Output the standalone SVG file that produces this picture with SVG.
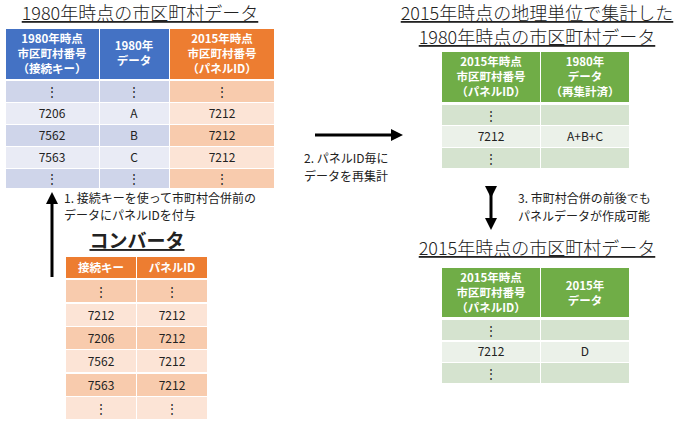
<svg xmlns="http://www.w3.org/2000/svg" width="688" height="425" viewBox="0 0 688 425">
<style>
text{font-family:"Noto Sans CJK JP","Liberation Sans",sans-serif;fill:#222}
.t{font-size:18px;text-decoration:underline;font-weight:300}
.h{font-size:11.5px;font-weight:bold;fill:#fff;text-anchor:middle}
.c{font-size:12px;text-anchor:middle}
.n{font-size:12px}
.b1{fill:#CFD5EA}.b2{fill:#E9EBF5}.o1{fill:#F8CBAD}.o2{fill:#FCE4D6}.g1{fill:#D5E3CF}.g2{fill:#EBF1E9}
</style>
<defs><marker id="a" markerWidth="4" markerHeight="4" refX="2" refY="2" orient="auto"><path d="M0,0L4,2L0,4z" fill="#000"/></marker></defs>
<rect width="688" height="425" fill="#fff"/>
<g id="t1980">
<text x="140" y="20" class="t" text-anchor="middle">1980年時点の市区町村データ</text>
<rect x="6" y="29" width="93" height="50" fill="#4472C4"/><rect x="100" y="29" width="69" height="50" fill="#4472C4"/><rect x="170" y="29" width="104" height="50" fill="#ED7D31"/>
<text class="h" x="52" y="43">1980年時点</text><text class="h" x="52" y="58">市区町村番号</text><text class="h" x="52" y="73">（接続キー）</text>
<text class="h" x="134" y="50">1980年</text><text class="h" x="134" y="65">データ</text>
<text class="h" x="222" y="43">2015年時点</text><text class="h" x="222" y="58">市区町村番号</text><text class="h" x="222" y="73">（パネルID）</text>
<rect class="b1" x="6" y="81" width="93" height="21"/><rect class="b1" x="100" y="81" width="69" height="21"/><rect class="o1" x="170" y="81" width="104" height="21"/>
<rect class="b2" x="6" y="103" width="93" height="21"/><rect class="b2" x="100" y="103" width="69" height="21"/><rect class="o2" x="170" y="103" width="104" height="21"/>
<rect class="b1" x="6" y="125" width="93" height="21"/><rect class="b1" x="100" y="125" width="69" height="21"/><rect class="o1" x="170" y="125" width="104" height="21"/>
<rect class="b2" x="6" y="147" width="93" height="21"/><rect class="b2" x="100" y="147" width="69" height="21"/><rect class="o2" x="170" y="147" width="104" height="21"/>
<rect class="b1" x="6" y="169" width="93" height="19"/><rect class="b1" x="100" y="169" width="69" height="19"/><rect class="o1" x="170" y="169" width="104" height="19"/>
<text class="c" x="52" y="96">⋮</text><text class="c" x="134" y="96">⋮</text><text class="c" x="222" y="96">⋮</text>
<text class="c" x="52" y="118">7206</text><text class="c" x="134" y="118">A</text><text class="c" x="222" y="118">7212</text>
<text class="c" x="52" y="140">7562</text><text class="c" x="134" y="140">B</text><text class="c" x="222" y="140">7212</text>
<text class="c" x="52" y="162">7563</text><text class="c" x="134" y="162">C</text><text class="c" x="222" y="162">7212</text>
<text class="c" x="52" y="183">⋮</text><text class="c" x="134" y="183">⋮</text><text class="c" x="222" y="183">⋮</text>
</g>
<g id="conv">
<text x="137" y="248" font-size="19" font-weight="bold" text-anchor="middle" text-decoration="underline">コンバータ</text>
<rect x="66" y="257" width="70" height="21" fill="#ED7D31"/><rect x="137" y="257" width="70" height="21" fill="#ED7D31"/>
<text class="h" x="101" y="272" font-size="13">接続キー</text><text class="h" x="172" y="272" font-size="13">パネルID</text>
<rect class="o1" x="66" y="280" width="70" height="22"/><rect class="o1" x="137" y="280" width="70" height="22"/>
<rect class="o2" x="66" y="304" width="70" height="22"/><rect class="o2" x="137" y="304" width="70" height="22"/>
<rect class="o1" x="66" y="327" width="70" height="22"/><rect class="o1" x="137" y="327" width="70" height="22"/>
<rect class="o2" x="66" y="350" width="70" height="22"/><rect class="o2" x="137" y="350" width="70" height="22"/>
<rect class="o1" x="66" y="374" width="70" height="22"/><rect class="o1" x="137" y="374" width="70" height="22"/>
<rect class="o2" x="66" y="397" width="70" height="22"/><rect class="o2" x="137" y="397" width="70" height="22"/>
<text class="c" x="101" y="296">⋮</text><text class="c" x="172" y="296">⋮</text>
<text class="c" x="101" y="320">7212</text><text class="c" x="172" y="320">7212</text>
<text class="c" x="101" y="343">7206</text><text class="c" x="172" y="343">7212</text>
<text class="c" x="101" y="366">7562</text><text class="c" x="172" y="366">7212</text>
<text class="c" x="101" y="390">7563</text><text class="c" x="172" y="390">7212</text>
<text class="c" x="101" y="413">⋮</text><text class="c" x="172" y="413">⋮</text>
</g>
<g id="tagg">
<text x="537" y="20" class="t" text-anchor="middle">2015年時点の地理単位で集計した</text>
<text x="537" y="44" class="t" text-anchor="middle">1980年時点の市区町村データ</text>
<rect x="442" y="52" width="98" height="50" fill="#70AD47"/><rect x="541" y="52" width="88" height="50" fill="#70AD47"/>
<text class="h" x="491" y="66">2015年時点</text><text class="h" x="491" y="81">市区町村番号</text><text class="h" x="491" y="96">（パネルID）</text>
<text class="h" x="585" y="66">1980年</text><text class="h" x="585" y="81">データ</text><text class="h" x="585" y="96">（再集計済）</text>
<rect class="g1" x="442" y="105" width="98" height="20"/><rect class="g1" x="541" y="105" width="88" height="20"/>
<rect class="g2" x="442" y="126" width="98" height="21"/><rect class="g2" x="541" y="126" width="88" height="21"/>
<rect class="g1" x="442" y="148" width="98" height="20"/><rect class="g1" x="541" y="148" width="88" height="20"/>
<text class="c" x="491" y="120">⋮</text>
<text class="c" x="491" y="141">7212</text><text class="c" x="585" y="141">A+B+C</text>
<text class="c" x="491" y="163">⋮</text>
</g>
<g id="t2015">
<text x="537" y="255" class="t" text-anchor="middle">2015年時点の市区町村データ</text>
<rect x="442" y="268" width="98" height="49" fill="#70AD47"/><rect x="541" y="268" width="88" height="49" fill="#70AD47"/>
<text class="h" x="491" y="282">2015年時点</text><text class="h" x="491" y="297">市区町村番号</text><text class="h" x="491" y="312">（パネルID）</text>
<text class="h" x="585" y="290">2015年</text><text class="h" x="585" y="305">データ</text>
<rect class="g1" x="442" y="320" width="98" height="20"/><rect class="g1" x="541" y="320" width="88" height="20"/>
<rect class="g2" x="442" y="342" width="98" height="20"/><rect class="g2" x="541" y="342" width="88" height="20"/>
<rect class="g1" x="442" y="363" width="98" height="20"/><rect class="g1" x="541" y="363" width="88" height="20"/>
<text class="c" x="491" y="335">⋮</text>
<text class="c" x="491" y="356">7212</text><text class="c" x="585" y="356">D</text>
<text class="c" x="491" y="378">⋮</text>
</g>
<g id="connectors" stroke="#000" stroke-width="3" fill="none">
<line x1="52" y1="277" x2="52" y2="198" marker-end="url(#a)"/>
<line x1="315" y1="135" x2="397" y2="135" marker-end="url(#a)"/>
<line x1="491" y1="192" x2="491" y2="224" marker-start="url(#a)" marker-end="url(#a)"/>
</g>
<g id="labels">
<text class="n" x="64" y="203">1. 接続キーを使って市町村合併前の</text>
<text class="n" x="64" y="220">データにパネルIDを付与</text>
<text class="n" x="304" y="163">2. パネルID毎に</text>
<text class="n" x="304" y="181">データを再集計</text>
<text class="n" x="518" y="203">3. 市町村合併の前後でも</text>
<text class="n" x="518" y="221">パネルデータが作成可能</text>
</g>
</svg>
